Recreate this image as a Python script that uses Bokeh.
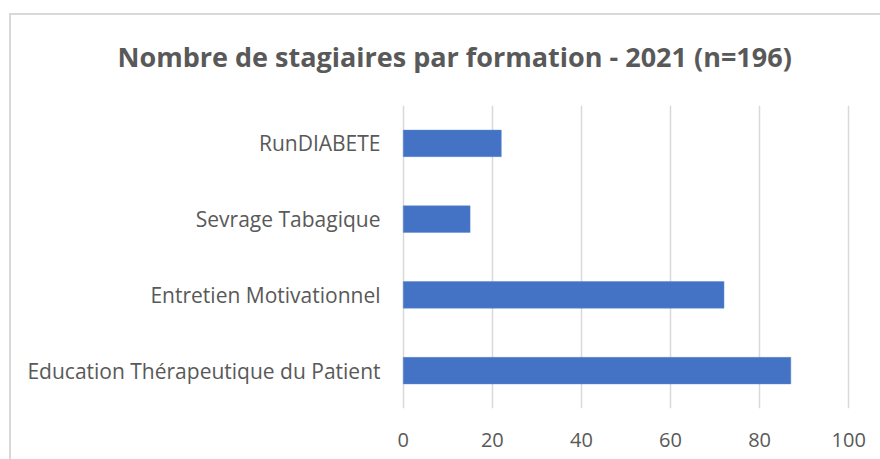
from bokeh.plotting import figure
from bokeh.models import Range1d, FactorRange, FixedTicker, InlineStyleSheet
from bokeh.embed import file_html
from bokeh.resources import INLINE

categories = ["Education Thérapeutique du Patient", "Entretien Motivationnel",
              "Sevrage Tabagique", "RunDIABETE"]
values = [87, 72, 15, 22]
x_ticks = [0, 20, 40, 60, 80, 100]
title_text = "Nombre de stagiaires par formation - 2021 (n=196)"

GREY = "#595959"

p = figure(width=880, height=459, frame_width=449, frame_height=303,
           y_range=FactorRange(*categories), x_range=Range1d(-0.4, 100.4),
           output_backend="svg", toolbar_location=None,
           min_border_left=401, min_border_right=30, min_border_top=105, min_border_bottom=51)

p.hbar(y=categories, right=values, height=0.35, left=0, color="#4472C4",
       line_color="#5a86d0", line_width=0.5)

p.title.text = title_text
p.title.text_font = "Open Sans"
p.title.text_font_style = "bold"
p.title.text_font_size = "27px"
p.title.text_color = GREY
p.title.align = "left"
p.title.offset = -284
p.title.standoff = 62

p.outline_line_color = None
p.background_fill_color = "white"
p.border_fill_color = "white"

p.xaxis.ticker = FixedTicker(ticks=x_ticks)
p.xaxis.axis_line_color = None
p.xaxis.major_tick_line_color = None
p.xaxis.minor_tick_line_color = None
p.xaxis.major_tick_out = 0
p.xaxis.major_tick_in = 0
p.xaxis.major_label_standoff = 24
p.xaxis.major_label_text_font = "Open Sans"
p.xaxis.major_label_text_font_size = "20px"
p.xaxis.major_label_text_color = GREY

p.yaxis.axis_line_color = None
p.yaxis.major_tick_line_color = None
p.yaxis.minor_tick_line_color = None
p.yaxis.major_tick_out = 0
p.yaxis.major_tick_in = 0
p.yaxis.major_label_standoff = 21
p.yaxis.major_label_text_font = "Open Sans"
p.yaxis.major_label_text_font_size = "21px"
p.yaxis.major_label_text_color = GREY

p.xgrid.grid_line_color = "#d9d9d9"
p.xgrid.grid_line_width = 1.5
p.ygrid.grid_line_color = None

p.stylesheets = [InlineStyleSheet(css="""
:host::after {
  content: '';
  position: absolute;
  left: 9px; top: 13px; right: -20px; bottom: -20px;
  border-left: 2px solid #d9d9d9;
  border-top: 2px solid #d9d9d9;
  pointer-events: none;
  z-index: 10;
}
""")]

open("out.html", "w").write(file_html(p, INLINE))
